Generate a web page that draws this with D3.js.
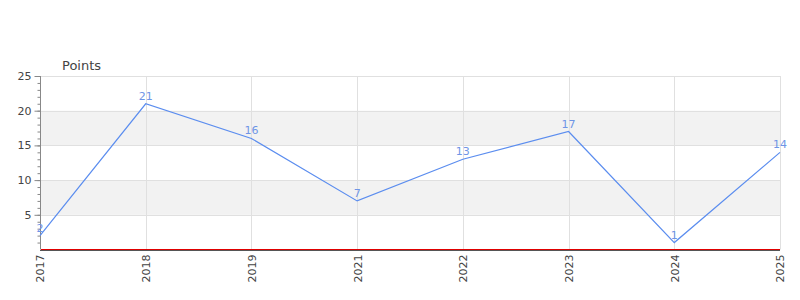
<!DOCTYPE html>
<html>
<head>
<meta charset="utf-8">
<script src="https://cdn.jsdelivr.net/npm/d3@7"></script>
<style>
  body { margin: 0; background: #fff; }
  svg { display: block; font-family: "DejaVu Sans", sans-serif; }
</style>
</head>
<body>
<svg id="chart" width="800" height="300"></svg>
<script>
  const years = ["2017", "2018", "2019", "2021", "2022", "2023", "2024", "2025"];
  const points = [2, 21, 16, 7, 13, 17, 1, 14];
  const yTicks = [5, 10, 15, 20, 25];
  const bands = [[5, 10], [15, 20]];

  const width = 800, height = 300;
  const m = { left: 40, right: 20, top: 76, bottom: 50.5 };
  const svg = d3.select("#chart");

  const x = d3.scalePoint().domain(years).range([m.left, width - m.right]);
  const y = d3.scaleLinear().domain([0, 25]).range([height - m.bottom, m.top]);

  // alternating bands
  svg.append("g").selectAll("rect").data(bands).enter().append("rect")
    .attr("x", m.left).attr("width", width - m.right - m.left)
    .attr("y", (d) => y(d[1])).attr("height", (d) => y(d[0]) - y(d[1]))
    .attr("fill", "#f2f2f2");

  // horizontal grid
  svg.append("g").selectAll("line").data(yTicks).enter().append("line")
    .attr("x1", m.left).attr("x2", width - m.right)
    .attr("y1", (d) => Math.round(y(d)) + 0.5).attr("y2", (d) => Math.round(y(d)) + 0.5)
    .attr("stroke", "#e0e0e0");

  // vertical grid
  svg.append("g").selectAll("line").data(years).enter().append("line")
    .attr("x1", (d) => Math.round(x(d)) + 0.5).attr("x2", (d) => Math.round(x(d)) + 0.5)
    .attr("y1", m.top).attr("y2", y(0))
    .attr("stroke", "#e0e0e0");

  // y axis with minor ticks
  const yAxis = svg.append("g").attr("transform", `translate(${m.left + 0.5},0)`);
  yAxis.call(d3.axisLeft(y).tickValues(d3.range(1, 26)).tickSize(3).tickFormat(""))
    .call((g) => g.select(".domain").remove());
  yAxis.selectAll(".tick line").attr("stroke", "#888");
  const yMajor = svg.append("g").attr("transform", `translate(${m.left + 0.5},0)`)
    .call(d3.axisLeft(y).tickValues(yTicks).tickSize(6).tickPadding(3));
  yMajor.select(".domain").attr("stroke", "#888").attr("d", `M0,${y(0)}V${m.top}`);
  yMajor.selectAll(".tick line").attr("stroke", "#888");
  yMajor.selectAll("text").attr("fill", "#444").style("font-size", "11px")
    .style("font-family", "DejaVu Sans, sans-serif");

  // x axis
  const xAxis = svg.append("g").attr("transform", `translate(0,${Math.round(y(0)) + 0.5})`)
    .call(d3.axisBottom(x).tickSize(0).tickPadding(4));
  xAxis.select(".domain").attr("stroke", "#555").attr("d", `M${m.left},0H${width - m.right}`);
  xAxis.selectAll("text")
    .attr("fill", "#444").style("font-size", "11px").style("font-family", "DejaVu Sans, sans-serif")
    .attr("transform", "rotate(-90)").attr("text-anchor", "end")
    .attr("x", -4).attr("y", 0).attr("dy", "0.35em");
  svg.append("line")
    .attr("x1", m.left + 1).attr("x2", width - m.right)
    .attr("y1", Math.round(y(0)) - 0.5).attr("y2", Math.round(y(0)) - 0.5)
    .attr("stroke", "#e00000");

  // axis title
  svg.append("text").attr("x", 62).attr("y", 70)
    .attr("fill", "#444").style("font-size", "13px").text("Points");

  // line
  const line = d3.line().x((d, i) => x(years[i])).y((d) => y(d));
  svg.append("path").datum(points)
    .attr("fill", "none").attr("stroke", "#5b8def").attr("stroke-width", 1.2)
    .attr("d", line);

  // value labels
  svg.append("g").selectAll("text").data(points).enter().append("text")
    .attr("x", (d, i) => x(years[i])).attr("y", (d) => y(d) - 4)
    .attr("text-anchor", "middle").attr("fill", "#6f95e6")
    .style("font-size", "11px").text((d) => d);
</script>
</body>
</html>
